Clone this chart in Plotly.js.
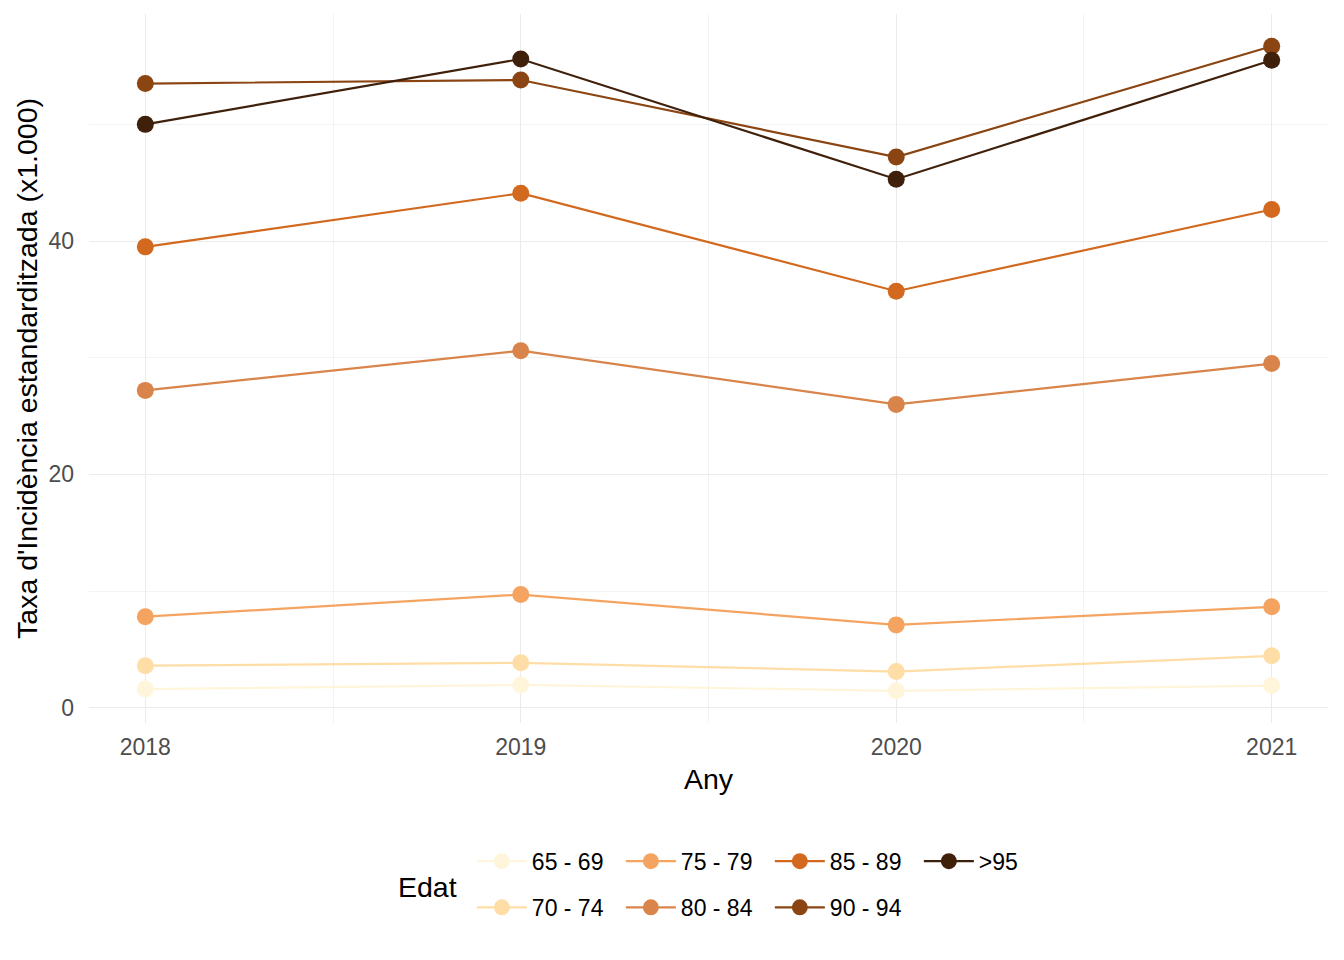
<!DOCTYPE html>
<html><head><meta charset="utf-8">
<script src="https://cdn.plot.ly/plotly-3.0.1.min.js"></script>
<style>body{margin:0;background:#fff}</style>
</head><body>
<div id="chart" style="width:1344px;height:960px"></div>
<script>
const years = [2018, 2019, 2020, 2021];
const groups = ["65 - 69", "70 - 74", "75 - 79", "80 - 84", "85 - 89", "90 - 94", ">95"];
const v65_69 = [1.6, 1.95, 1.45, 1.9];
const v70_74 = [3.6, 3.85, 3.1, 4.45];
const v75_79 = [7.8, 9.7, 7.1, 8.65];
const v80_84 = [27.2, 30.6, 26.0, 29.5];
const v85_89 = [39.5, 44.1, 35.7, 42.7];
const v90_94 = [53.5, 53.8, 47.2, 56.7];
const v95 = [50.0, 55.6, 45.3, 55.5];
const values = [v65_69, v70_74, v75_79, v80_84, v85_89, v90_94, v95];
const colors = ["#FFF5DA", "#FFDDA6", "#F4A460", "#D9844A", "#D2691E", "#8B4513", "#3E200B"];
const legendOf = ["legend", "legend2", "legend", "legend2", "legend", "legend2", "legend"];

const traces = groups.map((g, i) => ({
  x: years, y: values[i], name: g, type: "scatter", mode: "lines+markers",
  line: {color: colors[i], width: 2.2},
  marker: {color: colors[i], size: 17},
  legend: legendOf[i]
}));

const FONT = "Liberation Sans, Arial, sans-serif";
const legendCommon = {
  orientation: "h", xanchor: "left", yanchor: "middle",
  font: {family: FONT, size: 23, color: "#000"},
  bgcolor: "rgba(0,0,0,0)", entrywidth: 84, itemwidth: 50, traceorder: "normal"
};

const layout = {
  width: 1344, height: 960,
  paper_bgcolor: "#fff", plot_bgcolor: "#fff",
  margin: {l: 89, r: 16, t: 14, b: 237},
  font: {family: FONT},
  xaxis: {
    range: [2017.85, 2021.15], tickvals: years, ticktext: years.map(String),
    showgrid: true, gridcolor: "#EBEBEB", gridwidth: 1.1, zeroline: false,
    minor: {dtick: 0.5, tick0: 2017.5, showgrid: true, gridcolor: "#F3F3F3", gridwidth: 0.6},
    ticks: "", tickfont: {size: 23, color: "#4D4D4D"}, ticklabelstandoff: 8,
    title: {text: "Any", font: {size: 28.5, color: "#000"}, standoff: 10},
    showline: false
  },
  yaxis: {
    range: [-1.31, 59.46], tickvals: [0, 20, 40],
    showgrid: true, gridcolor: "#EBEBEB", gridwidth: 1.1, zeroline: false,
    minor: {tickvals: [10, 30, 50], showgrid: true, gridcolor: "#F3F3F3", gridwidth: 0.6},
    ticks: "", tickfont: {size: 23, color: "#4D4D4D"}, ticklabelstandoff: 14,
    title: {text: "Taxa d'Incidència estandarditzada (x1.000)", font: {size: 28.5, color: "#000"}, standoff: 2},
    showline: false
  },
  showlegend: true,
  legend: Object.assign({x: 0.309, y: -0.195}, legendCommon),
  legend2: Object.assign({x: 0.309, y: -0.26}, legendCommon),
  annotations: [{
    text: "Edat", xref: "paper", yref: "paper", x: 0.2736, y: -0.231,
    xanchor: "center", yanchor: "middle", showarrow: false,
    font: {family: FONT, size: 28.5, color: "#000"}
  }]
};

Plotly.newPlot("chart", traces, layout, {displayModeBar: false, responsive: false});
</script>
</body></html>
